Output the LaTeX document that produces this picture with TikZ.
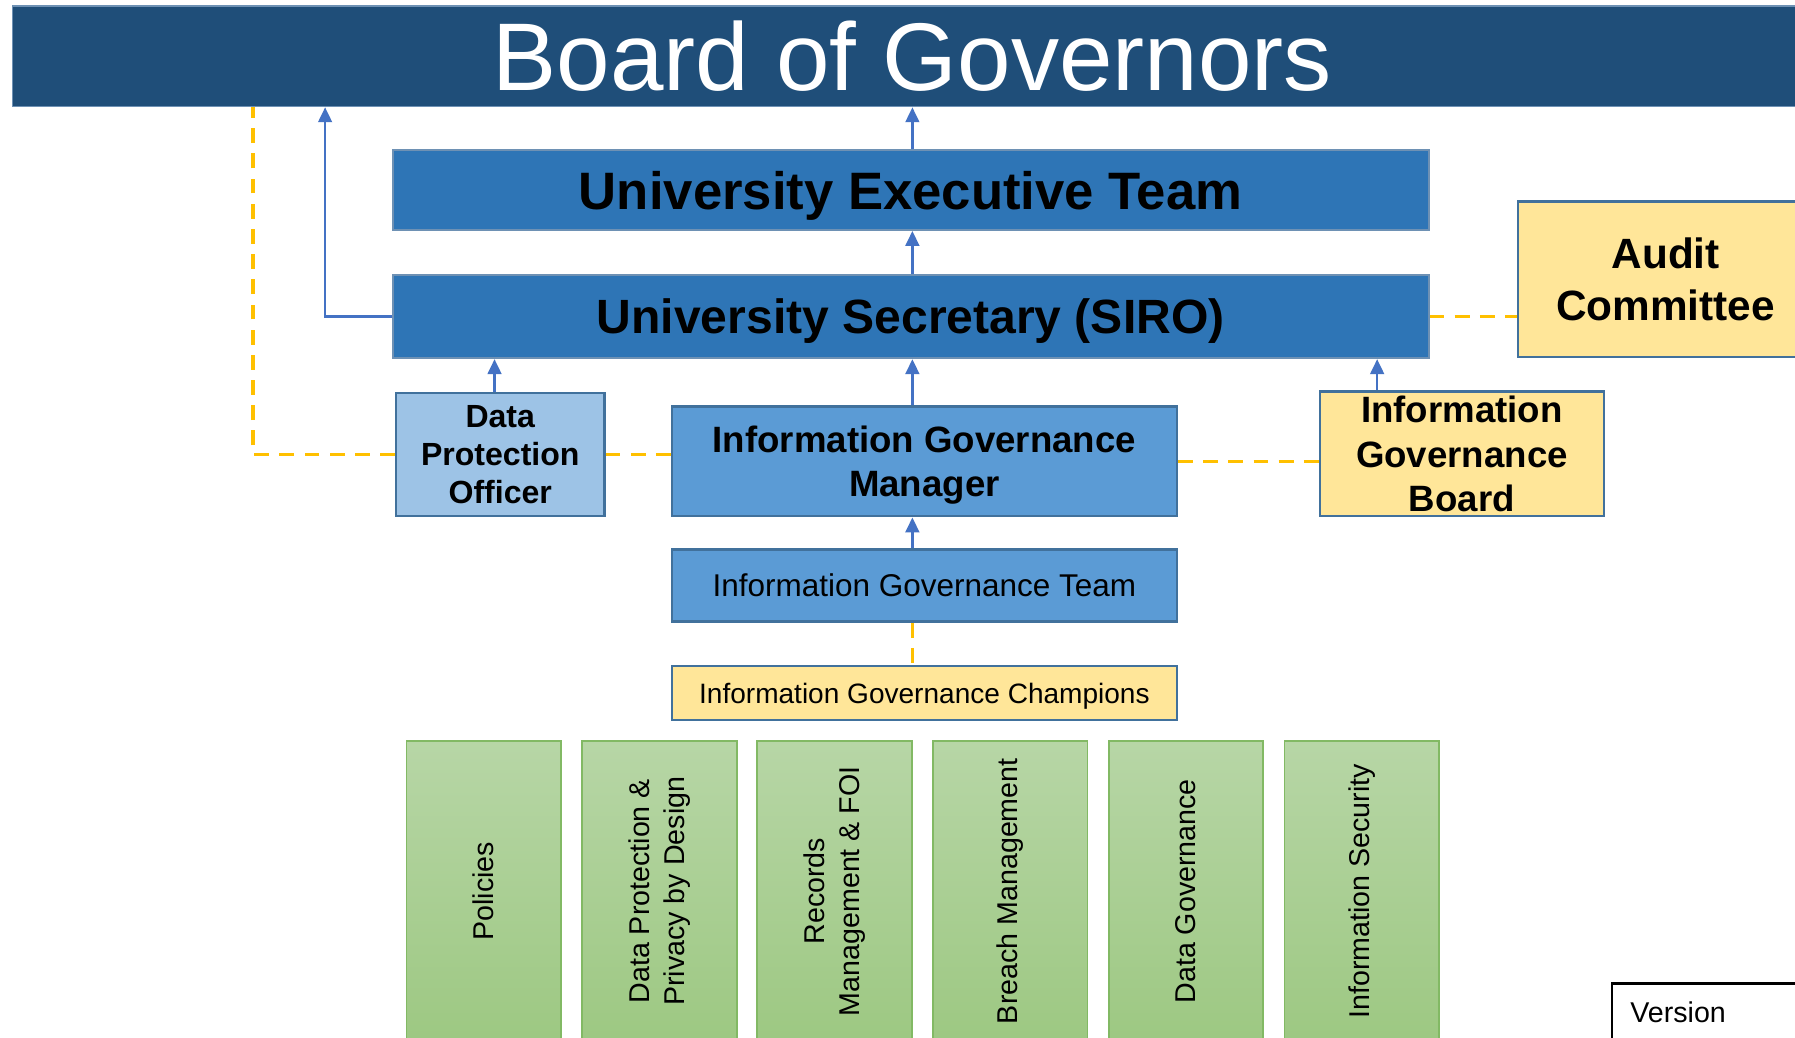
\documentclass[tikz,border=0pt]{standalone}
\usepackage{fontspec}
\setmainfont{Liberation Sans}
\usetikzlibrary{arrows.meta}
\definecolor{bogblue}{RGB}{31,78,121}
\definecolor{midblue}{RGB}{46,117,182}
\definecolor{ltblue}{RGB}{91,155,213}
\definecolor{paleblue}{RGB}{157,195,230}
\definecolor{edgeblue}{RGB}{65,113,156}
\definecolor{softedge}{RGB}{110,145,180}
\definecolor{pyellow}{RGB}{255,230,153}
\definecolor{arrblue}{RGB}{68,114,196}
\definecolor{dorange}{RGB}{255,192,0}
\definecolor{gtop}{RGB}{183,214,166}
\definecolor{gbot}{RGB}{157,200,130}
\definecolor{gedge}{RGB}{130,185,100}
\tikzset{
  box/.style={draw=edgeblue, line width=2pt, inner sep=0pt, align=center, text=black},
  darkbox/.style={box, draw=softedge, line width=1.5pt},
  greenbox/.style={draw=gedge, line width=1.5pt, inner sep=0pt, align=center, rotate=90,
     top color=gtop, bottom color=gbot, minimum width=263pt, minimum height=135pt,
     font={\fontsize{25}{31}\selectfont}},
  arr/.style={draw=arrblue, line width=2pt, -{Triangle[length=13pt,width=12pt]}},
  dsh/.style={draw=dorange, line width=3pt, dash pattern=on 13pt off 9pt},
}
\begin{document}
\begin{tikzpicture}[x=1pt,y=-1pt]
\useasboundingbox (0,0) rectangle (1568,906);
\fill[white] (0,0) rectangle (1568,906);
% nodes
\node[darkbox, fill=bogblue, text=white, minimum width=1572pt, minimum height=88pt,
      font={\fontsize{84}{90}\selectfont}] (bog) at (797,49) {Board of Governors};
\node[darkbox, fill=midblue, minimum width=905pt, minimum height=70pt, text depth=0pt,
      font={\fontsize{46}{50}\selectfont\bfseries}] (uex) at (795.5,166) {University Executive Team};
\node[darkbox, fill=midblue, minimum width=905pt, minimum height=73pt, text depth=-2pt,
      font={\fontsize{42}{46}\selectfont\bfseries}] (sec) at (795.5,276.5) {University Secretary (SIRO)};
\node[box, fill=paleblue, minimum width=182pt, minimum height=108pt, text depth=-4pt,
      font={\fontsize{28}{33}\selectfont\bfseries}] (dpo) at (437,397) {Data\\Protection\\Officer};
\node[box, fill=ltblue, minimum width=441pt, minimum height=96pt, text depth=-1pt,
      font={\fontsize{32}{39}\selectfont\bfseries}] (igm) at (807.5,403) {Information Governance\\Manager};
\node[box, fill=pyellow, minimum width=248pt, minimum height=109pt,
      font={\fontsize{32}{38.5}\selectfont\bfseries}] (igb) at (1277,396.5) {Information\\Governance\\Board};
\node[box, fill=pyellow, minimum width=258pt, minimum height=136pt,
      font={\fontsize{37}{45}\selectfont\bfseries}] (aud) at (1455,244) {Audit\\Committee};
\node[box, fill=ltblue, minimum width=441pt, minimum height=63pt,
      font={\fontsize{27.5}{30}\selectfont}] (igt) at (807.5,511.5) {Information Governance Team};
\node[box, fill=pyellow, minimum width=441pt, minimum height=47pt, text depth=0pt,
      font={\fontsize{24.5}{28}\selectfont}] (igc) at (807.5,605.5) {Information Governance Champions};
% green pillars
\node[greenbox] (g1) at (422.5,778.5) {Policies};
\node[greenbox] (g2) at (576,778.5) {Data Protection \&\\Privacy by Design};
\node[greenbox] (g3) at (729,778.5) {Records\\Management \& FOI};
\node[greenbox] (g4) at (882.5,778.5) {Breach Management};
\node[greenbox] (g5) at (1036,778.5) {Data Governance};
\node[greenbox] (g6) at (1189.5,778.5) {Information Security};
% version box
\node[draw=black, fill=white, line width=2pt, minimum width=200pt, minimum height=70pt,
      anchor=north west, inner sep=0pt] (ver) at (1407,858) {};
\node[anchor=west, inner sep=0pt, font={\fontsize{25}{28}\selectfont}] (vert) at (1424,884) {Version};
% coordinates
\coordinate (secturn) at (284,276.5);
\coordinate (dpoturn) at (221,397);
% arrows
\draw[arr] (uex.north -| bog.south) -- (bog.south);
\draw[arr] (sec.north -| bog.south) -- (uex.south -| bog.south);
\draw[arr] (sec.west) -- (secturn) -- (secturn |- bog.south);
\draw[arr] ([xshift=-5pt]dpo.north) -- ([xshift=-5pt]dpo.north |- sec.south);
\draw[arr] (igm.north -| bog.south) -- (sec.south -| bog.south);
\draw[arr] ([xshift=51pt]igb.north west) -- ([xshift=51pt]igb.north west |- sec.south);
\draw[arr] (igt.north -| bog.south) -- (igm.south -| bog.south);
% dashed links
\draw[dsh] (igt.south -| bog.south) -- (igc.north -| bog.south);
\draw[dsh] (dpo.west) -- (dpoturn) -- (dpoturn |- bog.south);
\draw[dsh] (dpo.east) -- (dpo.east -| igm.west);
\draw[dsh] (igm.east) -- (igm.east -| igb.west);
\draw[dsh] (sec.east) -- (sec.east -| aud.west);
\end{tikzpicture}
\end{document}
